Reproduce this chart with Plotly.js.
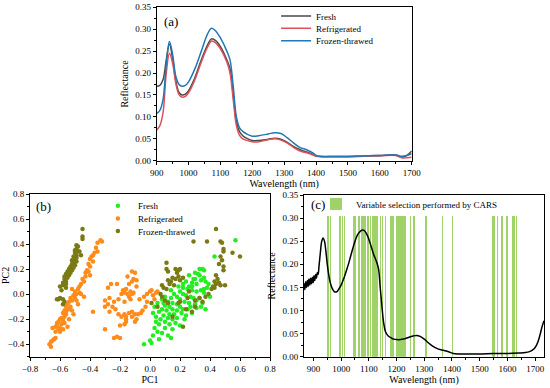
<!DOCTYPE html>
<html>
<head>
<meta charset="utf-8">
<script src="https://cdn.plot.ly/plotly-3.0.1.min.js"></script>
<style>html,body{margin:0;padding:0;background:#fff}#chart{width:550px;height:388px}</style>
</head>
<body>
<div id="chart"></div>
<script>
// ---------- Panel (a): mean spectra ----------
const wlA = [900,910,920,930,940,950,960,970,980,990,1000,1020,1040,1060,1072,1085,1100,1120,1130,1140,1150,1160,1170,1180,1200,1220,1250,1270,1290,1310,1330,1350,1370,1390,1400,1420,1450,1500,1550,1600,1650,1670,1685,1700];
const fresh = [0.170,0.172,0.185,0.230,0.266,0.232,0.182,0.156,0.150,0.152,0.160,0.190,0.230,0.265,0.278,0.274,0.260,0.230,0.210,0.150,0.090,0.066,0.057,0.052,0.046,0.046,0.049,0.051,0.049,0.042,0.032,0.025,0.020,0.015,0.011,0.009,0.009,0.009,0.011,0.012,0.013,0.008,0.012,0.022];
const refrig = [0.070,0.080,0.110,0.200,0.245,0.222,0.176,0.151,0.145,0.147,0.155,0.185,0.225,0.260,0.273,0.269,0.255,0.225,0.200,0.140,0.080,0.058,0.050,0.047,0.043,0.043,0.048,0.050,0.047,0.040,0.030,0.022,0.018,0.013,0.010,0.009,0.009,0.009,0.010,0.011,0.012,0.006,0.007,0.008];
const frozen = [0.108,0.115,0.140,0.220,0.272,0.242,0.192,0.174,0.170,0.172,0.180,0.210,0.250,0.290,0.302,0.296,0.280,0.250,0.230,0.170,0.100,0.075,0.067,0.062,0.056,0.057,0.061,0.064,0.062,0.052,0.040,0.030,0.025,0.018,0.012,0.010,0.010,0.010,0.011,0.012,0.013,0.010,0.012,0.016];

// ---------- Panel (b): PCA scores ----------
const freshPC1 = [0.57,0.43,0.35,0.33,0.36,0.30,0.33,0.29,0.34,0.36,0.37,0.31,0.28,0.26,0.22,0.25,0.28,0.31,0.34,0.36,0.38,0.20,0.22,0.24,0.27,0.29,0.31,0.33,0.35,0.37,0.34,0.30,0.26,0.23,0.20,0.18,0.16,0.14,0.12,0.15,0.18,0.20,0.22,0.25,0.28,0.24,0.21,0.18,0.15,0.13,0.10,0.11,0.13,0.16,0.18,0.15,0.12,0.09,0.08,0.06,0.07,0.10,0.13,0.10,0.06,0.04,0.03,0.05,0.08,0.12,0.02,0.00,0.01,-0.04,0.06,0.14,0.04,0.02,0.03,0.05,0.08,0.10,0.20,0.24,0.26,0.39,0.40,0.31,0.36,0.19,0.22,0.14,0.23,0.27,0.17,0.15,0.09,0.30,0.32,0.28];
const freshPC2 = [0.43,0.30,0.20,0.20,0.19,0.17,0.15,0.12,0.11,0.13,0.10,0.08,0.09,0.06,0.05,0.04,0.03,0.02,0.03,0.04,0.05,0.02,0.00,-0.01,-0.02,-0.03,-0.05,-0.03,-0.07,-0.12,-0.10,-0.08,-0.07,-0.06,-0.04,-0.02,0.00,-0.03,-0.06,-0.07,-0.08,-0.10,-0.12,-0.12,-0.15,-0.17,-0.15,-0.13,-0.12,-0.10,-0.09,-0.13,-0.16,-0.16,-0.19,-0.20,-0.19,-0.17,-0.12,-0.14,-0.20,-0.22,-0.24,-0.27,-0.24,-0.22,-0.27,-0.30,-0.31,-0.33,-0.33,-0.37,-0.39,-0.40,-0.36,-0.35,-0.18,-0.15,-0.10,-0.07,-0.04,-0.02,-0.25,0.10,0.15,0.08,-0.02,-0.11,0.01,0.06,0.08,0.03,-0.20,-0.10,-0.23,-0.28,-0.07,0.12,0.16,0.06];
const refPC1 = [-0.33,-0.32,-0.35,-0.36,-0.35,-0.37,-0.38,-0.39,-0.40,-0.38,-0.41,-0.40,-0.41,-0.43,-0.42,-0.40,-0.43,-0.45,-0.44,-0.46,-0.47,-0.48,-0.50,-0.52,-0.49,-0.51,-0.47,-0.53,-0.50,-0.52,-0.54,-0.55,-0.53,-0.56,-0.55,-0.57,-0.56,-0.58,-0.57,-0.59,-0.58,-0.60,-0.61,-0.59,-0.62,-0.60,-0.63,-0.61,-0.63,-0.60,-0.65,-0.62,-0.58,-0.55,-0.57,-0.54,-0.56,-0.54,-0.51,-0.52,-0.64,-0.65,-0.66,-0.67,-0.66,-0.63,-0.49,-0.48,-0.46,-0.44,-0.38,-0.30,
 -0.22,-0.26,-0.28,-0.27,-0.24,-0.25,-0.28,-0.30,-0.30,-0.23,-0.21,-0.27,-0.21,-0.19,-0.17,-0.15,-0.13,-0.12,-0.11,-0.16,-0.18,-0.14,-0.12,-0.15,-0.11,-0.12,-0.10,-0.09,-0.09,-0.14,-0.13,-0.17,-0.20,-0.22,-0.24,-0.20,-0.16,-0.17,-0.16,-0.17,-0.14,-0.12,-0.10,-0.08,-0.06,-0.12,-0.09,-0.05,-0.03,-0.02,-0.02,0.00,0.02,0.01,0.04,0.05,0.03,-0.07,-0.04,-0.10,-0.16,-0.19];
const refPC2 = [0.43,0.42,0.41,0.37,0.34,0.33,0.31,0.30,0.28,0.26,0.24,0.22,0.18,0.17,0.19,0.15,0.14,0.12,0.10,0.08,0.06,0.04,0.02,0.04,0.00,-0.01,0.01,-0.03,-0.03,-0.05,-0.06,-0.08,-0.10,-0.10,-0.12,-0.13,-0.16,-0.15,-0.18,-0.19,-0.21,-0.20,-0.22,-0.24,-0.25,-0.27,-0.26,-0.28,-0.30,-0.30,-0.27,-0.23,-0.28,-0.26,-0.23,-0.20,-0.14,-0.12,-0.16,-0.13,-0.36,-0.37,-0.38,-0.40,-0.42,-0.35,-0.05,-0.08,0.00,-0.02,-0.14,-0.28,
 0.08,0.08,0.05,-0.03,-0.06,-0.10,-0.08,-0.05,-0.10,-0.12,-0.16,-0.14,-0.04,0.00,0.01,0.00,0.02,0.00,0.01,0.04,0.03,0.08,0.10,0.14,0.12,0.18,0.17,0.11,0.06,-0.02,-0.04,-0.06,-0.25,-0.34,-0.35,-0.35,-0.22,-0.24,-0.20,-0.16,-0.15,-0.14,-0.16,-0.16,-0.15,-0.18,-0.20,-0.13,-0.10,-0.06,0.00,0.02,-0.01,0.03,0.01,0.02,-0.04,-0.04,-0.02,-0.22,-0.18,-0.18];
const froPC1 = [-0.45,-0.45,-0.45,-0.49,-0.48,-0.49,-0.50,-0.48,-0.50,-0.49,-0.51,-0.49,-0.50,-0.52,-0.49,-0.51,-0.52,-0.50,-0.53,-0.51,-0.54,-0.52,-0.55,-0.53,-0.56,-0.54,-0.57,-0.55,-0.57,-0.56,-0.58,-0.56,-0.58,-0.60,-0.56,-0.59,-0.60,-0.62,-0.61,-0.58,-0.57,-0.58,-0.47,-0.46,
 0.44,0.29,0.38,0.47,0.48,0.49,0.49,0.47,0.48,0.46,0.49,0.49,0.55,0.60,0.44,0.45,0.43,0.46,0.44,0.47,0.43,0.42,0.41,0.50,0.39,0.37,0.35,0.33,0.30,
 0.11,0.11,0.12,0.17,0.19,0.20,0.18,0.15,0.17,0.19,0.14,0.13,0.16,0.12,0.20,0.08,0.11,0.09,0.22,0.07,0.08,0.05,0.10,0.12,0.24,0.28,0.20,0.25,0.15,0.30,0.22,0.19,0.26,0.01];
const froPC2 = [0.52,0.46,0.44,0.39,0.38,0.36,0.35,0.34,0.33,0.31,0.30,0.29,0.28,0.27,0.26,0.25,0.24,0.23,0.22,0.21,0.20,0.19,0.18,0.17,0.16,0.15,0.14,0.13,0.12,0.10,0.09,0.08,0.07,0.06,0.05,0.03,-0.03,-0.04,-0.04,-0.04,-0.06,-0.08,0.34,0.31,
 0.52,0.42,0.42,0.42,0.41,0.36,0.34,0.30,0.27,0.24,0.22,0.19,0.33,0.30,0.15,0.12,0.10,0.09,0.08,0.07,0.05,0.06,0.04,0.07,0.00,-0.02,-0.06,-0.03,-0.10,
 0.25,0.20,0.18,0.20,0.19,0.20,0.17,0.13,0.12,0.14,0.10,0.08,0.07,0.11,0.11,0.07,0.04,0.05,0.13,0.00,-0.02,-0.10,-0.05,-0.07,-0.12,-0.14,-0.06,-0.03,-0.18,-0.05,-0.26,-0.07,0.02,-0.07];

// ---------- Panel (c): average spectrum + CARS variables ----------
const wlC = [863,866,869,872,875,878,881,884,887,890,893,896,899,902,905,908,911,914,917,920,925,930,935,940,945,950,955,960,965,970,975,980,985,990,1000,1010,1020,1030,1040,1050,1060,1070,1078,1085,1095,1105,1117,1128,1135,1141,1147,1153,1160,1170,1180,1190,1200,1215,1230,1245,1260,1272,1285,1300,1315,1330,1345,1360,1375,1390,1405,1420,1450,1500,1550,1600,1640,1665,1680,1690,1700,1710,1718,1725,1732];
const reflC = [0.150,0.158,0.145,0.162,0.150,0.165,0.152,0.168,0.155,0.170,0.158,0.172,0.160,0.175,0.165,0.178,0.170,0.182,0.178,0.195,0.225,0.250,0.257,0.250,0.228,0.200,0.178,0.162,0.152,0.145,0.141,0.140,0.141,0.145,0.155,0.170,0.188,0.208,0.230,0.250,0.265,0.272,0.274,0.272,0.262,0.245,0.222,0.205,0.190,0.150,0.110,0.075,0.054,0.045,0.041,0.038,0.037,0.037,0.039,0.042,0.045,0.046,0.044,0.038,0.030,0.023,0.018,0.015,0.013,0.010,0.007,0.006,0.006,0.006,0.007,0.007,0.008,0.009,0.011,0.014,0.020,0.032,0.048,0.065,0.078];
const carsWl = [950,953,962,995,998,1005,1012,1044,1048,1052,1062,1066,1075,1079,1083,1088,1095,1100,1106,1112,1119,1123,1126,1132,1141,1150,1160,1177,1181,1185,1189,1199,1203,1207,1211,1215,1219,1223,1227,1231,1249,1263,1306,1367,1402,1548,1552,1564,1580,1597,1601,1620,1624,1634];
const CARS_TOP = 0.305;

const FONT = 'Liberation Serif';
const tf = {family: FONT, size: 9, color: '#000'};
const titf = {family: FONT, size: 10, color: '#000'};

function axisBase(extra) {
  return Object.assign({
    showline: true, linecolor: '#000', linewidth: 1, mirror: true,
    ticks: 'outside', ticklen: 3, tickwidth: 1, tickcolor: '#000',
    showgrid: false, zeroline: false, tickfont: tf, fixedrange: true
  }, extra);
}
const minorT = (d) => ({ticks: 'outside', ticklen: 2, tickcolor: '#000', dtick: d, showgrid: false});

const legFont = {family: FONT, size: 9, color: '#000'};
const yPix = (p) => 1 - p / 388;
const lineLeg = (n) => ({x: 0.502, y: n, xanchor: 'left', yanchor: 'middle', bgcolor: 'rgba(0,0,0,0)', font: legFont, borderwidth: 0, itemwidth: 30});
const dotLeg = (n) => ({x: 0.178, y: n, xanchor: 'left', yanchor: 'middle', bgcolor: 'rgba(0,0,0,0)', font: legFont, borderwidth: 0, itemwidth: 30});

const traces = [
  {x: wlA, y: fresh, type: 'scatter', mode: 'lines', name: 'Fresh', line: {color: '#4a4a4a', width: 1.5, shape: 'spline'}, xaxis: 'x', yaxis: 'y', legend: 'legend'},
  {x: wlA, y: refrig, type: 'scatter', mode: 'lines', name: 'Refrigerated', line: {color: '#e0505a', width: 1.5, shape: 'spline'}, xaxis: 'x', yaxis: 'y', legend: 'legend2'},
  {x: wlA, y: frozen, type: 'scatter', mode: 'lines', name: 'Frozen-thrawed', line: {color: '#2277b5', width: 1.5, shape: 'spline'}, xaxis: 'x', yaxis: 'y', legend: 'legend3'},

  {x: freshPC1, y: freshPC2, type: 'scatter', mode: 'markers', name: 'Fresh', marker: {color: '#22ee22', size: 4.5}, xaxis: 'x2', yaxis: 'y2', legend: 'legend4'},
  {x: refPC1, y: refPC2, type: 'scatter', mode: 'markers', name: 'Refrigerated', marker: {color: '#ff8c1a', size: 4.5}, xaxis: 'x2', yaxis: 'y2', legend: 'legend5'},
  {x: froPC1, y: froPC2, type: 'scatter', mode: 'markers', name: 'Frozen-thrawed', marker: {color: '#7a7a14', size: 4.5}, xaxis: 'x2', yaxis: 'y2', legend: 'legend6'},

  {x: carsWl, y: carsWl.map(() => CARS_TOP), type: 'bar', width: 4.6, name: 'Variable selection performed by CARS', marker: {color: '#9fd36a', line: {width: 0}}, xaxis: 'x3', yaxis: 'y3', legend: 'legend7'},
  {x: wlC, y: reflC, type: 'scatter', mode: 'lines', name: 'Spectrum', showlegend: false, line: {color: '#000', width: 1.5, shape: 'spline'}, xaxis: 'x3', yaxis: 'y3'}
];

const layout = {
  width: 550, height: 388,
  margin: {l: 0, r: 0, t: 0, b: 0},
  paper_bgcolor: '#fff', plot_bgcolor: '#fff',
  font: {family: FONT, color: '#000'},
  bargap: 0, barmode: 'overlay',
  xaxis: axisBase({domain: [156.7/550, 411.7/550], anchor: 'y', range: [900, 1700], tick0: 900, dtick: 100, minor: minorT(50),
    title: {text: 'Wavelength (nm)', font: titf, standoff: 3}}),
  yaxis: axisBase({domain: [yPix(160.7), yPix(7.3)], anchor: 'x', range: [0, 0.35], dtick: 0.05, tickformat: '.2f', minor: minorT(0.025),
    title: {text: 'Reflectance', font: titf, standoff: 4}}),
  xaxis2: axisBase({domain: [30/550, 270/550], anchor: 'y2', range: [-0.8, 0.8], dtick: 0.2, tickformat: '.1f', minor: minorT(0.1),
    title: {text: 'PC1', font: titf, standoff: 2}}),
  yaxis2: axisBase({domain: [yPix(356.7), yPix(194)], anchor: 'x2', range: [-0.5, 0.8], tick0: 0, dtick: 0.2, tickformat: '.1f', minor: minorT(0.1),
    title: {text: 'PC2', font: titf, standoff: 3}}),
  xaxis3: axisBase({domain: [304/550, 544/550], anchor: 'y3', range: [866, 1732], tick0: 900, dtick: 100, minor: minorT(50),
    title: {text: 'Wavelength (nm)', font: titf, standoff: 3}}),
  yaxis3: axisBase({domain: [yPix(356.7), yPix(195)], anchor: 'x3', range: [0, 0.35], dtick: 0.05, tickformat: '.2f', minor: minorT(0.025),
    title: {text: 'Reflectance', font: titf, standoff: 4}}),
  legend: lineLeg(yPix(16)),
  legend2: lineLeg(yPix(28.3)),
  legend3: lineLeg(yPix(40.7)),
  legend4: dotLeg(yPix(205.7)),
  legend5: dotLeg(yPix(218.5)),
  legend6: dotLeg(yPix(231)),
  legend7: {x: 316/550, y: yPix(204), xanchor: 'left', yanchor: 'middle', bgcolor: 'rgba(0,0,0,0)', font: legFont, borderwidth: 0},
  annotations: [
    {text: '(a)', xref: 'paper', yref: 'paper', x: 162/550, y: yPix(21), xanchor: 'left', yanchor: 'middle', showarrow: false, font: {family: FONT, size: 13, color: '#000'}},
    {text: '(b)', xref: 'paper', yref: 'paper', x: 34/550, y: yPix(206), xanchor: 'left', yanchor: 'middle', showarrow: false, font: {family: FONT, size: 13, color: '#000'}},
    {text: '(c)', xref: 'paper', yref: 'paper', x: 309/550, y: yPix(204), xanchor: 'left', yanchor: 'middle', showarrow: false, font: {family: FONT, size: 13, color: '#000'}}
  ]
};

Plotly.newPlot('chart', traces, layout, {staticPlot: true, displayModeBar: false});
</script>
</body>
</html>
